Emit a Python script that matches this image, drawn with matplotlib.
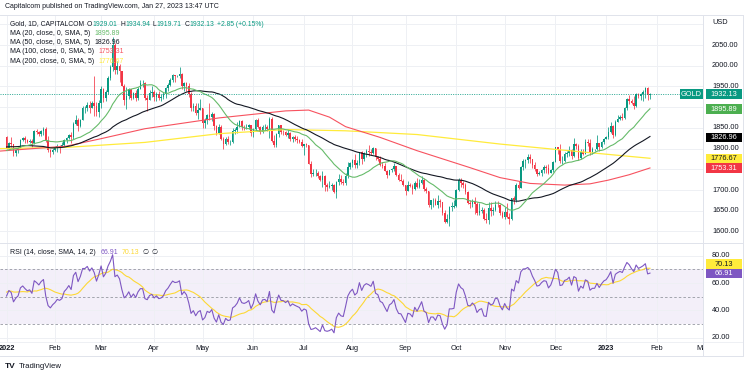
import numpy as np
import pandas as pd
import matplotlib
matplotlib.use("Agg")
import matplotlib.pyplot as plt
from matplotlib.patches import Rectangle
from matplotlib.lines import Line2D
from matplotlib.transforms import Bbox

plt.rcParams['font.family'] = ['Liberation Sans', 'DejaVu Sans']

# ---------------- data ----------------
# closes before the visible range (Oct 19 - Dec 31, 2021) used for MA / RSI warm-up
pre_close = [1769, 1782, 1783, 1793, 1806, 1793, 1798, 1799, 1783,
             1793, 1788, 1769, 1792, 1818, 1824, 1831, 1849, 1862, 1864, 1866, 1851, 1869, 1858, 1846,
             1805, 1789, 1788, 1791, 1788, 1785, 1774,
             1782, 1769, 1783, 1779, 1784, 1783, 1775, 1783, 1787, 1770, 1777, 1798, 1804, 1791, 1789,
             1803, 1808, 1811, 1811, 1790, 1805, 1815, 1829]

# daily bars, Jan 3 2022 - Jan 27 2023 (weekdays)
close = [
    1801, 1814, 1810, 1789, 1797, 1802, 1821, 1826, 1821, 1817, 1819, 1813, 1842, 1839, 1835, 1843, 1848, 1819, 1797, 1791, 1797,
    1801, 1807, 1805, 1808, 1821, 1826, 1833, 1827, 1860, 1870, 1855, 1870, 1898, 1898, 1906, 1899, 1910, 1903, 1889, 1909,
    1943, 1922, 1936, 1970, 1998, 2050, 1990, 2000, 1988, 1951, 1917, 1926, 1943, 1921, 1935, 1921, 1944, 1958, 1958, 1922, 1918, 1933, 1937,
    1925, 1932, 1923, 1925, 1931, 1946, 1954, 1966, 1977, 1974, 1975, 1979, 1950, 1958, 1951, 1931, 1898, 1904, 1886, 1894, 1897,
    1863, 1868, 1881, 1877, 1883, 1854, 1838, 1853, 1822, 1811, 1824, 1815, 1816, 1842, 1846, 1853, 1866, 1853, 1851, 1853, 1857, 1837,
    1847, 1869, 1851, 1841, 1852, 1853, 1848, 1871, 1819, 1808, 1835, 1857, 1840, 1839, 1833, 1838, 1822, 1827, 1823, 1820, 1817, 1807,
    1811, 1808, 1764, 1739, 1740, 1742, 1734, 1725, 1735, 1711, 1708, 1709, 1711, 1696, 1719, 1727, 1719, 1717, 1734, 1756, 1766,
    1772, 1760, 1765, 1791, 1775, 1789, 1794, 1792, 1789, 1802, 1779, 1776, 1761, 1758, 1747, 1736, 1748, 1751, 1758, 1737, 1724, 1723, 1711,
    1697, 1712, 1710, 1702, 1718, 1708, 1716, 1725, 1702, 1697, 1665, 1675, 1675, 1664, 1673, 1671, 1644, 1622, 1629, 1660, 1660, 1661,
    1699, 1725, 1716, 1712, 1695, 1668, 1666, 1673, 1666, 1644, 1650, 1652, 1629, 1627, 1657, 1649, 1652, 1665, 1663, 1645, 1634,
    1647, 1635, 1629, 1681, 1676, 1712, 1706, 1755, 1771, 1772, 1779, 1774, 1761, 1751, 1738, 1740, 1749, 1755, 1754, 1741, 1749, 1768,
    1803, 1797, 1769, 1771, 1786, 1789, 1797, 1781, 1810, 1807, 1777, 1793, 1788, 1817, 1814, 1792, 1798, 1798, 1813, 1804, 1815, 1824,
    1828, 1839, 1855, 1833, 1865, 1872, 1877, 1875, 1897, 1920, 1916, 1909, 1904, 1932, 1926, 1931, 1937, 1946, 1929.28, 1932.13]
high = [
    1831, 1815, 1829, 1812, 1799, 1805, 1823, 1828, 1830, 1824, 1822, 1823, 1844, 1847, 1843, 1845, 1853, 1853, 1830, 1800, 1801,
    1807, 1810, 1809, 1816, 1823, 1829, 1836, 1841, 1865, 1880, 1873, 1872, 1902, 1902, 1913, 1914, 1914, 1974, 1913, 1917,
    1950, 1947, 1941, 1974, 2002, 2070, 2055, 2011, 2003, 1978, 1955, 1949, 1947, 1944, 1937, 1942, 1948, 1966, 1966, 1961, 1929, 1941, 1950,
    1941, 1937, 1938, 1932, 1937, 1948, 1959, 1970, 1981, 1978, 1977, 1998, 1982, 1960, 1960, 1958, 1936, 1910, 1909, 1909, 1920,
    1899, 1874, 1884, 1910, 1889, 1886, 1858, 1859, 1858, 1827, 1827, 1831, 1820, 1849, 1849, 1865, 1869, 1870, 1858, 1860, 1860, 1858,
    1849, 1872, 1874, 1855, 1856, 1860, 1858, 1876, 1876, 1832, 1838, 1858, 1857, 1846, 1842, 1847, 1839, 1830, 1833, 1830, 1824, 1823,
    1812, 1813, 1808, 1770, 1752, 1752, 1745, 1737, 1745, 1736, 1716, 1723, 1716, 1715, 1721, 1739, 1736, 1727, 1740, 1767, 1768,
    1775, 1788, 1772, 1792, 1795, 1791, 1800, 1808, 1799, 1805, 1801, 1783, 1782, 1767, 1765, 1748, 1749, 1753, 1765, 1759, 1740, 1739, 1727,
    1711, 1721, 1718, 1714, 1721, 1729, 1726, 1735, 1729, 1707, 1698, 1677, 1680, 1681, 1688, 1678, 1671, 1652, 1642, 1661, 1672, 1677,
    1703, 1730, 1729, 1722, 1716, 1697, 1675, 1678, 1683, 1671, 1668, 1659, 1656, 1645, 1670, 1671, 1659, 1674, 1674, 1666, 1650,
    1660, 1669, 1644, 1682, 1685, 1717, 1722, 1757, 1775, 1776, 1787, 1786, 1773, 1767, 1750, 1745, 1751, 1760, 1760, 1764, 1750, 1769,
    1804, 1804, 1810, 1782, 1791, 1795, 1807, 1799, 1825, 1814, 1810, 1799, 1798, 1822, 1824, 1823, 1804, 1800, 1833, 1812, 1819, 1826,
    1830, 1851, 1865, 1858, 1869, 1881, 1881, 1886, 1900, 1922, 1930, 1920, 1928, 1935, 1935, 1935, 1942, 1949, 1949, 1934.94]
low = [
    1799, 1798, 1804, 1783, 1781, 1790, 1801, 1818, 1813, 1814, 1814, 1804, 1812, 1835, 1830, 1831, 1834, 1815, 1792, 1780, 1788,
    1795, 1792, 1789, 1805, 1806, 1814, 1823, 1814, 1824, 1858, 1843, 1851, 1868, 1886, 1890, 1886, 1897, 1879, 1878, 1877,
    1899, 1912, 1915, 1931, 1966, 1988, 1979, 1981, 1961, 1950, 1906, 1895, 1919, 1918, 1920, 1915, 1917, 1943, 1948, 1918, 1890, 1917, 1925,
    1916, 1915, 1917, 1915, 1920, 1923, 1939, 1951, 1960, 1961, 1973, 1970, 1944, 1940, 1940, 1925, 1891, 1890, 1881, 1872, 1892,
    1850, 1850, 1860, 1869, 1867, 1846, 1832, 1836, 1820, 1799, 1808, 1812, 1808, 1813, 1835, 1838, 1851, 1845, 1846, 1848, 1847, 1830,
    1828, 1844, 1849, 1836, 1838, 1846, 1842, 1825, 1816, 1805, 1804, 1827, 1835, 1832, 1831, 1825, 1818, 1816, 1819, 1814, 1814, 1803,
    1785, 1805, 1763, 1732, 1733, 1735, 1730, 1722, 1707, 1697, 1698, 1705, 1701, 1692, 1681, 1713, 1714, 1712, 1713, 1728, 1752,
    1755, 1754, 1754, 1761, 1764, 1771, 1780, 1782, 1784, 1788, 1773, 1771, 1759, 1753, 1745, 1729, 1736, 1743, 1747, 1734, 1721, 1721, 1709,
    1688, 1697, 1707, 1691, 1700, 1706, 1706, 1714, 1697, 1692, 1660, 1655, 1660, 1663, 1657, 1660, 1639, 1620, 1621, 1614, 1650, 1656,
    1660, 1698, 1707, 1706, 1690, 1666, 1656, 1658, 1642, 1641, 1640, 1645, 1628, 1621, 1618, 1638, 1640, 1649, 1659, 1640, 1633,
    1630, 1633, 1617, 1628, 1667, 1672, 1702, 1705, 1749, 1754, 1766, 1765, 1753, 1747, 1735, 1736, 1734, 1741, 1742, 1738, 1740, 1743,
    1768, 1787, 1765, 1764, 1768, 1779, 1781, 1774, 1779, 1798, 1773, 1775, 1784, 1786, 1807, 1784, 1786, 1794, 1796, 1795, 1802, 1811,
    1823, 1822, 1838, 1825, 1830, 1865, 1868, 1868, 1872, 1894, 1908, 1907, 1896, 1901, 1923, 1917, 1916, 1922, 1918, 1919.71]
last_open = 1929.01

# 100 / 200 period moving averages (bar index, value)
ma100_idx = [-3, 26, 41, 60, 92, 121, 131, 140, 147, 162, 178, 201, 214, 227, 242, 253, 261, 270, 279]
ma100_val = [1794, 1806, 1824, 1848, 1874, 1891, 1893, 1876, 1853, 1827, 1795, 1754, 1730, 1716, 1712, 1715, 1724, 1737, 1753.31]
ma200_idx = [-3, 26, 60, 92, 121, 147, 178, 214, 242, 261, 279]
ma200_val = [1800, 1803, 1815, 1836, 1846, 1843, 1834, 1811, 1796, 1786, 1776.67]

tick_dates = ['2022-01-03', '2022-02-01', '2022-03-01', '2022-04-01', '2022-05-02', '2022-06-01',
              '2022-07-01', '2022-08-01', '2022-09-01', '2022-10-03', '2022-11-01', '2022-12-01',
              '2023-01-02', '2023-02-01', '2023-03-01']
tick_labels = ['2022', 'Feb', 'Mar', 'Apr', 'May', 'Jun', 'Jul', 'Aug', 'Sep', 'Oct', 'Nov', 'Dec',
               '2023', 'Feb', 'Mar']

price_ticks = [1600, 1650, 1700, 1750, 1800, 1850, 1900, 1950, 2000, 2050, 2100]
rsi_ticks = [20, 40, 60, 80]

legend_ohlc = ['1929.01', '1934.94', '1919.71', '1932.13', '+2.85 (+0.15%)']
ma_names = ['MA (20, close, 0, SMA, 5)', 'MA (50, close, 0, SMA, 5)',
            'MA (100, close, 0, SMA, 5)', 'MA (200, close, 0, SMA, 5)']
ma_last = [1895.89, 1826.96, 1753.31, 1776.67]
rsi_last = 66.91
rsi_ma_last = 70.13

# ---------------- colours ----------------
UP, DOWN = '#089981', '#f23645'
C_MA20, C_MA50, C_MA100, C_MA200 = '#66bb6a', '#131722', '#f7525f', '#ffeb3b'
C_RSI, C_RSIMA = '#7e57c2', '#fdd835'
TXT = '#131722'
GRID = '#eef0f4'
BORDER = '#e0e3eb'

# ---------------- computations ----------------
c = np.array(close, float)
h = np.array(high, float)
l = np.array(low, float)
allc = np.concatenate([np.array(pre_close, float), c])
o = np.concatenate([[pre_close[-1]], c[:-1]])
o[-1] = last_open
h = np.maximum(h, np.maximum(o, c))
l = np.minimum(l, np.minimum(o, c))
n = len(c)
npre = len(pre_close)
idx = np.arange(n)

ser = pd.Series(allc)
ma20 = ser.rolling(20).mean().values[npre:]
ma50 = ser.rolling(50).mean().values[npre:]

d = np.diff(allc)
gain = np.clip(d, 0, None)
loss = np.clip(-d, 0, None)
ag = np.full(len(d), np.nan)
al = np.full(len(d), np.nan)
ag[13] = gain[:14].mean()
al[13] = loss[:14].mean()
for i in range(14, len(d)):
    ag[i] = (ag[i - 1] * 13 + gain[i]) / 14
    al[i] = (al[i - 1] * 13 + loss[i]) / 14
rsi_all = 100 - 100 / (1 + ag / al)
rsi_ma_all = pd.Series(rsi_all).rolling(14).mean().values
rsi = rsi_all[npre - 1:]
rsi_ma = rsi_ma_all[npre - 1:]

tick_idx = [int(np.busday_count('2022-01-03', t)) for t in tick_dates]

# ---------------- figure ----------------
W, H = 750, 376
fig = plt.figure(figsize=(W / 100, H / 100), dpi=100)
fig.patch.set_facecolor('white')

PANE_R = 703
P_TOP, P_BOT = 14.5, 243
R_TOP, R_BOT = 243, 342


def axes_px(x0, y0, x1, y1, **kw):
    return fig.add_axes([x0 / W, 1 - y1 / H, (x1 - x0) / W, (y1 - y0) / H], **kw)


ax_p = axes_px(0, P_TOP, PANE_R, P_BOT)
ax_r = axes_px(0, R_TOP, PANE_R, R_BOT)
ov = axes_px(0, 0, W, H, zorder=10)
ov.set_xlim(0, W)
ov.set_ylim(H, 0)
ov.axis('off')

x0 = -6.56 / 2.3065
x1 = (PANE_R - 6.56) / 2.3065
pscale = 0.4144
rscale = 82 / 60.0
for ax in (ax_p, ax_r):
    ax.set_xlim(x0, x1)
    for s in ax.spines.values():
        s.set_visible(False)
    ax.tick_params(length=0, labelbottom=False, labelleft=False)
    ax.set_xticks(tick_idx)
    ax.set_axisbelow(True)
    ax.grid(True, axis='x', color=GRID, lw=0.7)
    ax.set_facecolor('none')

ax_p.set_ylim(1600 - (P_BOT - 231.5) / pscale, 2050 + (45 - P_TOP) / pscale)
ax_r.set_ylim(20 - (R_BOT - 337.7) / rscale, 80 + (255.7 - R_TOP) / rscale)
ax_p.set_yticks(price_ticks)
ax_p.grid(True, axis='y', color=GRID, lw=0.7)
ax_r.set_yticks(rsi_ticks)
ax_r.grid(True, axis='y', color=GRID, lw=0.7)

# candles
cols = np.where(c >= o, UP, DOWN)
ax_p.vlines(idx, l, h, colors=cols, lw=0.55, zorder=2)
ax_p.bar(idx, np.maximum(np.abs(c - o), 0.8), bottom=np.minimum(o, c), width=0.7,
         color=cols, lw=0, zorder=2)

# moving averages
ax_p.plot(ma200_idx, ma200_val, color=C_MA200, lw=0.9, zorder=3)
ax_p.plot(ma100_idx, ma100_val, color=C_MA100, lw=0.8, zorder=3)
ax_p.plot(idx, ma50, color=C_MA50, lw=0.8, zorder=3)
ax_p.plot(idx, ma20, color=C_MA20, lw=0.8, zorder=3)

# last price dotted line
ax_p.axhline(c[-1], color=UP, lw=0.6, ls=(0, (1.2, 1.6)), zorder=3)

# RSI pane
ax_r.axhspan(30, 70, color=C_RSI, alpha=0.09, lw=0, zorder=0.5)
for lvl in (70, 50, 30):
    ax_r.axhline(lvl, color='#9598a1', lw=0.6, ls=(0, (3, 2.5)), zorder=1)
ax_r.plot(idx, rsi_ma, color=C_RSIMA, lw=0.8, zorder=2)
ax_r.plot(idx, rsi, color=C_RSI, lw=0.8, zorder=3)

# ---------------- overlay: frame, texts, tags ----------------
def line(xa, ya, xb, yb, col=BORDER, lw=0.7):
    ov.add_line(Line2D([xa, xb], [ya, yb], color=col, lw=lw))

line(0, P_TOP, 742.5, P_TOP)
line(0, R_TOP, 742.5, R_TOP)
line(0, R_BOT, 742.5, R_BOT, col='#eef0f4')
line(0, 356, 742.5, 356)
line(PANE_R, P_TOP, PANE_R, 356)
line(742.5, P_TOP, 742.5, 356)

renderer = fig.canvas.get_renderer()
FS = 5.0
AXFS = 5.3


def seq(x, y, parts, fs=FS):
    for text, col, gap in parts:
        t = ov.text(x, y, text, color=col, fontsize=fs, ha='left', va='center')
        x += t.get_window_extent(renderer).width + gap
    return x


def py_price(v):
    return H - ax_p.transData.transform((0, v))[1]


def py_rsi(v):
    return H - ax_r.transData.transform((0, v))[1]


def px_idx(i):
    return ax_p.transData.transform((i, 0))[0]


ov.text(5, 7, 'Capitalcom published on TradingView.com, Jan 27, 2023 13:47 UTC',
        color=TXT, fontsize=5.0, ha='left', va='center')

seq(10, 24, [('Gold, 1D, CAPITALCOM', TXT, 2.8),
             ('O', TXT, 0.2), (legend_ohlc[0], UP, 2.8),
             ('H', TXT, 0.2), (legend_ohlc[1], UP, 2.8),
             ('L', TXT, 0.2), (legend_ohlc[2], UP, 2.8),
             ('C', TXT, 0.2), (legend_ohlc[3], UP, 2.8),
             (legend_ohlc[4], UP, 0)], fs=4.85)
ma_cols = [C_MA20, C_MA50, C_MA100, C_MA200]
for k in range(4):
    seq(10, 33.3 + 9.3 * k, [(ma_names[k], TXT, 4.5), (f'{ma_last[k]:.2f}', ma_cols[k], 0)])

seq(10, 252.7, [('RSI (14, close, SMA, 14, 2)', TXT, 4.5), (f'{rsi_last:.2f}', C_RSI, 3.5),
                (f'{rsi_ma_last:.2f}', C_RSIMA, 3.5), ('\u2205', TXT, 3), ('\u2205', TXT, 0)])


def tag(y, text, fc, tc, xa=705.5, xb=741.5):
    ov.add_patch(Rectangle((xa, y - 4.7), xb - xa, 9.4, fc=fc, ec='none', zorder=5))
    ov.text((xa + xb) / 2, y + 0.3, text, color=tc, fontsize=AXFS, ha='center', va='center', zorder=6)


# price axis labels
tags_p = [(c[-1], UP, 'white'), (ma_last[0], '#4caf50', 'white'), (ma_last[1], '#000000', 'white'),
          (ma_last[3], C_MA200, TXT), (ma_last[2], DOWN, 'white')]
tag_y = [py_price(v) for v, _, _ in tags_p]
ov.text(712, 22, 'USD', color=TXT, fontsize=AXFS, ha='left', va='center')
for v in price_ticks:
    y = py_price(v)
    if y < 30 or min(abs(y - ty) for ty in tag_y) < 5:
        continue
    ov.text(712, y, f'{v:.2f}', color=TXT, fontsize=AXFS, ha='left', va='center')
for (v, fc, tc), y in zip(tags_p, tag_y):
    tag(y, f'{v:.2f}', fc, tc)
gy = py_price(c[-1])
ov.add_patch(Rectangle((680, gy - 4.7), 23, 9.4, fc=UP, ec='none', zorder=5))
ov.text(691.5, gy + 0.3, 'GOLD', color='white', fontsize=AXFS, ha='center', va='center', zorder=6)

# RSI axis labels
for v in rsi_ticks:
    ov.text(712, py_rsi(v), f'{v:.2f}', color=TXT, fontsize=AXFS, ha='left', va='center')
y_rsi = py_rsi(rsi_last)
y_rsima = py_rsi(rsi_ma_last)
if y_rsi - y_rsima < 9.4:
    y_rsima = y_rsi - 9.4
tag(y_rsima, f'{rsi_ma_last:.2f}', C_MA200, TXT)
tag(y_rsi, f'{rsi_last:.2f}', C_RSI, 'white')

# time axis
clip = Bbox.from_extents(0, 0, PANE_R, H)
for i, lab in zip(tick_idx, tick_labels):
    t = ov.text(px_idx(i), 349, lab, color=TXT, fontsize=AXFS, ha='center', va='center',
                fontweight='bold' if lab.isdigit() else 'normal')
    t.set_clip_on(True)
    t.set_clip_box(clip)

# footer
ov.text(5, 366, 'TV', color=TXT, fontsize=6, fontweight='bold', ha='left', va='center')
ov.text(19, 366, 'TradingView', color=TXT, fontsize=5.6, ha='left', va='center')

fig.savefig('out.png', dpi=100, facecolor='white')
